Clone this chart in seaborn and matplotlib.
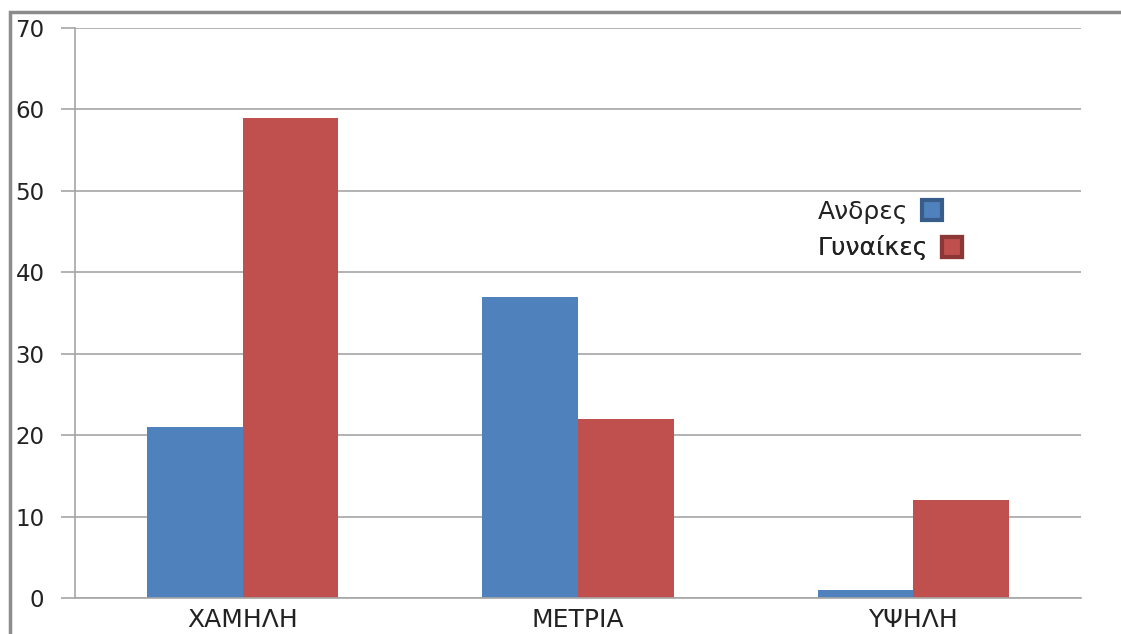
import pandas as pd
import matplotlib
matplotlib.use("Agg")
import matplotlib.pyplot as plt
import seaborn as sns
from matplotlib.lines import Line2D
from matplotlib.patches import Rectangle

categories = ["ΧΑΜΗΛΗ", "ΜΕΤΡΙΑ", "ΥΨΗΛΗ"]
series_names = ["Ανδρες", "Γυναίκες"]
men = [21, 37, 1]
women = [59, 22, 12]
colors = ["#4f81bd", "#c0504d"]
edge_colors = ["#385d8a", "#8c3836"]

df = pd.DataFrame({
    "level": categories * 2,
    "group": [series_names[0]] * 3 + [series_names[1]] * 3,
    "value": men + women,
})

sns.set_style("white")
plt.rcParams["font.family"] = ["DejaVu Sans"]

fig = plt.figure(figsize=(11.21, 6.34), dpi=100)
ax = fig.add_axes([75 / 1121, 1 - 598 / 634, (1081 - 75) / 1121, (598 - 28) / 634])

sns.barplot(data=df, x="level", y="value", hue="group", palette=colors,
            width=0.57, gap=0, saturation=1, ax=ax, legend=False, linewidth=0)

ax.set_xlim(-0.5, 2.5)
ax.set_ylim(0, 70)
ax.set_yticks(range(0, 71, 10))
ax.yaxis.grid(True, color="#a6a6a6", linewidth=1.2)
ax.set_axisbelow(True)
ax.set_xlabel("")
ax.set_ylabel("")
for side in ["top", "right"]:
    ax.spines[side].set_visible(False)
for side in ["left", "bottom"]:
    ax.spines[side].set_color("#a6a6a6")
    ax.spines[side].set_linewidth(1.2)
ax.tick_params(axis="y", left=True, length=10, color="#a6a6a6", width=1.2,
               labelsize=16.5, pad=12, labelcolor="#222222")
ax.tick_params(axis="x", bottom=False, labelsize=18, pad=4, labelcolor="#222222")

# one legend per series so each marker sits right after its own label
rows_y = [212, 248]
for name, c, e, yy in zip(series_names, colors, edge_colors, rows_y):
    h = Line2D([], [], linestyle="none", marker="s", markersize=14,
               markerfacecolor=c, markeredgecolor=e, markeredgewidth=3)
    leg = ax.legend([h], [name], frameon=False, markerfirst=False,
                    loc="center left", bbox_to_anchor=(818 / 1121, 1 - yy / 634),
                    bbox_transform=fig.transFigure, fontsize=18, borderpad=0,
                    borderaxespad=0, handletextpad=0.5, handlelength=0.9)
    for t in leg.get_texts():
        t.set_color("#222222")
    ax.add_artist(leg)

fig.patches.append(Rectangle((10 / 1121, -0.1), 1.2, 1 - 12 / 634 + 0.1,
                             transform=fig.transFigure, fill=False,
                             edgecolor="#8c8c8c", linewidth=2.5))

fig.savefig("out.png", dpi=100)
